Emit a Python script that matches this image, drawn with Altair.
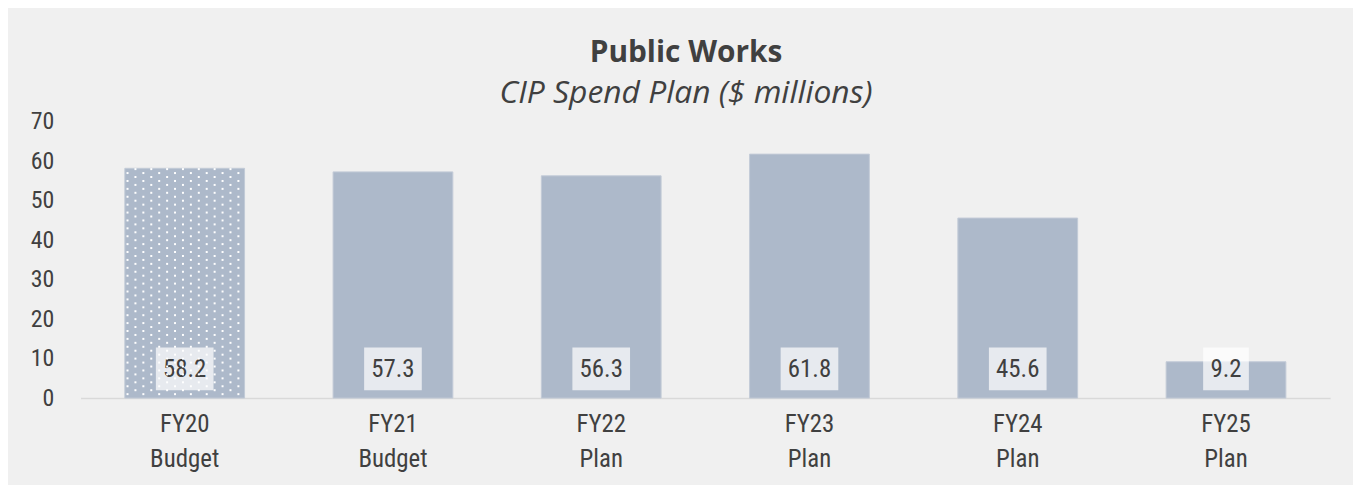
import altair as alt
import pandas as pd

# ---- data ----
categories = ["FY20", "FY21", "FY22", "FY23", "FY24", "FY25"]
subcategories = ["Budget", "Budget", "Plan", "Plan", "Plan", "Plan"]
values = [58.2, 57.3, 56.3, 61.8, 45.6, 9.2]
patterned = [True, False, False, False, False, False]
y_ticks = [0, 10, 20, 30, 40, 50, 60, 70]

df = pd.DataFrame({
    "cat": [f"{c} {s}" for c, s in zip(categories, subcategories)],
    "value": values,
    "patterned": patterned,
})

TEXT = "#404040"
BAR = "#adb9ca"
NARROW = "Roboto Condensed, Liberation Sans Narrow, Roboto, sans-serif"
PAD_INNER = 0.425
PAD_OUTER = PAD_INNER / 2

x_scale = alt.Scale(paddingInner=PAD_INNER, paddingOuter=PAD_OUTER)
x_axis = alt.Axis(
    labelExpr="split(datum.label, ' ')", labelAngle=0,
    labelFont=NARROW, labelFontSize=25, labelColor=TEXT,
    labelLineHeight=35, labelPadding=14, labelBaseline="top",
    ticks=False, tickSize=0, domain=True, domainColor="#d9d9d9",
    domainWidth=1.5, grid=False, title=None,
)
y_scale = alt.Scale(domain=[0, 70], nice=False)
y_axis = alt.Axis(
    values=y_ticks, labelFont=NARROW, labelFontSize=24, labelColor=TEXT,
    ticks=False, tickSize=0, domain=False, grid=False, labelPadding=27,
    labelOverlap=False, title=None,
)


def xe():
    return alt.X("cat:N", sort=None, title=None, scale=x_scale, axis=x_axis)


base = alt.Chart(df)

bars = base.mark_bar(color=BAR, stroke="#c3cbd7", strokeWidth=1).encode(
    x=xe(), y=alt.Y("value:Q", title=None, scale=y_scale, axis=y_axis)
)

boxes = (
    base.transform_calculate(boxw="length(format(datum.value, '.1f')) * 12 + 10")
    .mark_bar(color="white", opacity=0.7)
    .encode(
        x=xe(),
        y=alt.Y(datum=2.0, title=None, scale=y_scale, axis=y_axis),
        y2=alt.Y2(datum=12.8),
        size=alt.Size("boxw:Q", scale=None, legend=None),
    )
)

labels = base.mark_text(
    font=NARROW, fontSize=25, color=TEXT, baseline="middle", align="center"
).encode(
    x=xe(),
    y=alt.Y(datum=7.4, title=None, scale=y_scale, axis=y_axis),
    text=alt.Text("value:Q", format=".1f"),
)

# dotted texture of the first (budget) bar, laid out in band units
dots = (
    base.transform_window(idx="row_number()")
    .transform_filter("datum.patterned")
    .transform_calculate(rows="sequence(0, floor(datum.value))")
    .transform_flatten(["rows"], ["row"])
    .transform_calculate(cols="sequence(0, 8)")
    .transform_flatten(["cols"], ["col"])
    .transform_calculate(
        u="(datum.col + 0.17 + 0.5 * (datum.row % 2)) / 7.56",
        yv="datum.row + 1",
    )
    .transform_filter("datum.u < 1")
    .transform_calculate(
        xq=f"datum.idx - 1 + {PAD_OUTER} + {1 - PAD_INNER} * datum.u"
    )
    .mark_square(color="white", size=4, opacity=1)
    .encode(
        x=alt.X("xq:Q", title=None,
                scale=alt.Scale(domain=[0, len(categories)], nice=False, zero=False),
                axis=None),
        y=alt.Y("yv:Q", title=None, scale=y_scale, axis=y_axis),
    )
)

chart = (
    alt.layer(alt.layer(bars, boxes, labels), dots)
    .resolve_scale(x="independent")
    .properties(
        width=1257,
        height=278,
        autosize=alt.AutoSizeParams(type="none"),
        padding={"left": 73, "top": 113, "right": 23, "bottom": 86},
        background="#f0f0f0",
        title=alt.TitleParams(
            text="Public Works",
            subtitle="CIP Spend Plan ($ millions)",
            font="Open Sans", fontSize=30, fontWeight=700, color=TEXT,
            subtitleFont="Open Sans", subtitleFontSize=32,
            subtitleFontStyle="italic", subtitleColor=TEXT,
            anchor="middle", offset=1, subtitlePadding=10, dx=-19.5,
        ),
    )
    .configure_view(stroke=None)
)

chart.save("out.html", embed_options={"renderer": "svg", "actions": False})
